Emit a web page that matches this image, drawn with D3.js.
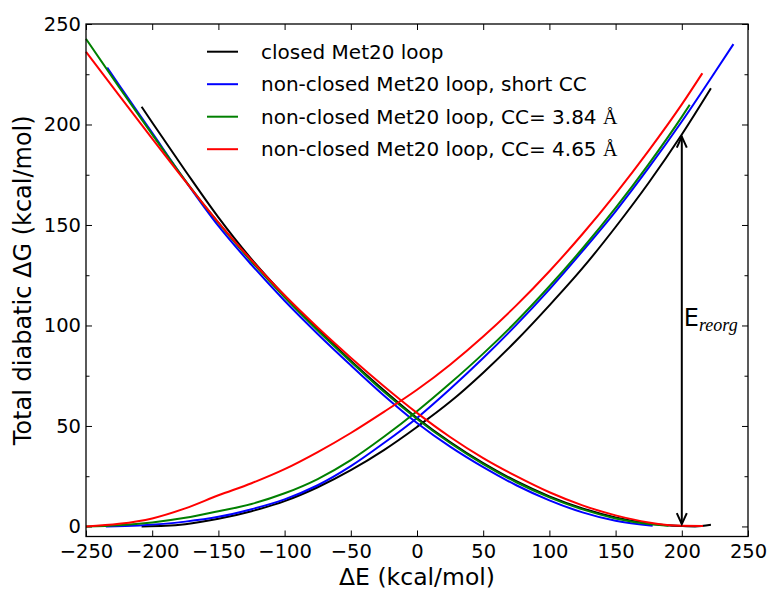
<!DOCTYPE html>
<html>
<head>
<meta charset="utf-8">
<script src="https://cdn.jsdelivr.net/npm/d3@7"></script>
<style>
  html, body { margin: 0; padding: 0; background: #fff; }
  svg { display: block; }
  text { font-family: "DejaVu Sans", sans-serif; fill: #000; }
</style>
</head>
<body>
<svg id="chart" width="771" height="590"></svg>
<script>
// Diabatic free-energy curves, [ΔE, ΔG] in kcal/mol.
// Reactant-state curves (rise to the right)
const closedRise = [[-208,0],[-190,0.3],[-175,1.1],[-150,3.8],[-125,7.6],[-100,12.6],[-75,19.5],[-50,28],[-25,38],[0,49.5],[25,62],[50,76.5],[75,92.5],[100,110],[125,128.5],[150,149],[175,171],[200,195],[222,218]];
const shortRise  = [[-235,0],[-210,0.5],[-175,2.4],[-150,4.8],[-125,8.6],[-100,13.5],[-75,20.5],[-50,30],[-25,41.5],[0,54],[25,68.4],[50,83.8],[75,100.3],[100,118],[125,137],[150,156.8],[175,178.5],[200,201.5],[225,226],[239,240]];
const cc384Rise  = [[-250,0],[-225,0.6],[-200,2],[-175,4.3],[-150,7.6],[-125,11.2],[-100,16.5],[-75,23.6],[-50,33],[-25,44.6],[0,57.3],[25,71.2],[50,86],[75,102],[100,119.5],[125,138.3],[150,158.5],[175,180.3],[200,203.8],[206,209.8]];
const cc465Rise  = [[-250,0],[-225,1.3],[-200,4],[-175,9],[-150,15.5],[-125,21.5],[-100,28.5],[-75,37],[-50,46.5],[-25,57],[0,68],[25,80.5],[50,94.5],[75,110],[100,127],[125,145.5],[150,165.5],[175,187],[200,210],[215.5,225.5]];
// Product-state curves (fall to the right)
const closedFall = [[-208,208.8],[-200,201],[-175,177],[-150,153.8],[-125,133],[-100,114.8],[-75,98.3],[-50,82.5],[-25,67.8],[0,54],[25,42],[50,31.5],[75,22.5],[100,15],[125,9],[150,4.5],[175,1.5],[200,0.2],[210,0],[222,0.8]];
const shortFall  = [[-234,228.3],[-225,219.6],[-200,195.8],[-175,172],[-150,149.5],[-125,130.2],[-100,112.3],[-75,95.8],[-50,80.2],[-25,65.2],[0,51.5],[25,39.7],[50,29.5],[75,20.5],[100,13],[125,7],[150,2.8],[178,0.3]];
const cc384Fall  = [[-250,242.6],[-225,218.6],[-200,195.1],[-175,172.1],[-150,151],[-125,131.8],[-100,114],[-75,97.5],[-50,82],[-25,67],[0,53.5],[25,41.5],[50,31],[75,22],[100,14.5],[125,8.5],[150,4],[175,1.2],[190,0.3]];
const cc465Fall  = [[-250,236.2],[-225,214.5],[-200,193],[-175,171.8],[-150,151.3],[-125,132.5],[-100,115],[-75,99],[-50,84],[-25,69.8],[0,56.5],[25,44.5],[50,34],[75,25],[100,17],[125,10.5],[150,5.5],[175,2],[200,0.3],[216,0.2]];

const seriesNames  = ["closed Met20 loop", "non-closed Met20 loop, short CC", "non-closed Met20 loop, CC= 3.84 ", "non-closed Met20 loop, CC= 4.65 "];
const seriesColors = ["#000000", "#0000ff", "#008000", "#ff0000"];
const seriesCurves = [[closedRise, closedFall], [shortRise, shortFall], [cc384Rise, cc384Fall], [cc465Rise, cc465Fall]];

const xTicks = [-250, -200, -150, -100, -50, 0, 50, 100, 150, 200, 250];
const yTicks = [0, 50, 100, 150, 200, 250];
const yMinorTicks = [25, 75, 125, 175, 225];

// Reorganization-energy arrow at ΔE = 200
const reorgX = 200;
const reorgFrom = 1.2;
const reorgTo = 194;

const svg = d3.select("#chart");
const plotLeft = 86, plotRight = 748, plotTop = 24, plotBottom = 536.5;

const x = d3.scaleLinear().domain([-250, 250]).range([plotLeft, plotRight]);
const y = d3.scaleLinear().domain([-5, 250]).range([plotBottom, plotTop]);

const fmt = d => (d < 0 ? "\u2212" + Math.abs(d) : String(d));

// axes: ticks point inward on all four sides
const gx = svg.append("g").attr("transform", `translate(0,${plotBottom})`)
  .call(d3.axisBottom(x).tickValues(xTicks).tickSizeInner(-6).tickSizeOuter(0).tickPadding(7.8).tickFormat(fmt));
const gxt = svg.append("g").attr("transform", `translate(0,${plotTop})`)
  .call(d3.axisTop(x).tickValues(xTicks).tickSizeInner(-6).tickSizeOuter(0).tickFormat(""));
const gy = svg.append("g").attr("transform", `translate(${plotLeft},0)`)
  .call(d3.axisLeft(y).tickValues(yTicks).tickSizeInner(-6).tickSizeOuter(0).tickPadding(5).tickFormat(fmt));
const gym = svg.append("g").attr("transform", `translate(${plotLeft},0)`)
  .call(d3.axisLeft(y).tickValues(yMinorTicks).tickSizeInner(-3.5).tickSizeOuter(0).tickFormat(""));
const gyr = svg.append("g").attr("transform", `translate(${plotRight},0)`)
  .call(d3.axisRight(y).tickValues(yTicks).tickSizeInner(-6).tickSizeOuter(0).tickFormat(""));
const gyrm = svg.append("g").attr("transform", `translate(${plotRight},0)`)
  .call(d3.axisRight(y).tickValues(yMinorTicks).tickSizeInner(-3.5).tickSizeOuter(0).tickFormat(""));

[gx, gxt, gy, gym, gyr, gyrm].forEach(g => {
  g.select(".domain").remove();
  g.selectAll(".tick line").attr("stroke", "#000").attr("stroke-width", 1);
  g.selectAll(".tick text").attr("font-family", "DejaVu Sans").attr("font-size", 19.5).attr("fill", "#000");
});

// curves
const line = d3.line().x(d => x(d[0])).y(d => y(d[1])).curve(d3.curveMonotoneX);
seriesCurves.forEach((pair, i) => {
  pair.forEach(data => {
    svg.append("path").datum(data)
      .attr("d", line)
      .attr("fill", "none")
      .attr("stroke", seriesColors[i])
      .attr("stroke-width", 2)
      .attr("stroke-linejoin", "round");
  });
});

// frame
svg.append("rect")
  .attr("x", plotLeft).attr("y", plotTop)
  .attr("width", plotRight - plotLeft).attr("height", plotBottom - plotTop)
  .attr("fill", "none").attr("stroke", "#000").attr("stroke-width", 1.3);

// double-headed arrow
const ax = x(reorgX), ay0 = y(reorgFrom), ay1 = y(reorgTo);
svg.append("line").attr("x1", ax).attr("x2", ax).attr("y1", ay0).attr("y2", ay1)
  .attr("stroke", "#000").attr("stroke-width", 2);
const head = (tipY, dir) => `M${ax - 5},${tipY + dir * 11}L${ax},${tipY}L${ax + 5},${tipY + dir * 11}`;
svg.append("path").attr("d", head(ay1, 1)).attr("fill", "none").attr("stroke", "#000").attr("stroke-width", 2);
svg.append("path").attr("d", head(ay0, -1)).attr("fill", "none").attr("stroke", "#000").attr("stroke-width", 2);

const lbl = svg.append("text").attr("x", ax + 2).attr("y", y(100) + 1).attr("font-size", 24);
lbl.append("tspan").text("E");
lbl.append("tspan").attr("font-family", "Liberation Serif").attr("font-style", "italic")
  .attr("font-size", 18).attr("dy", 5).text("reorg");

// legend
const legend = svg.append("g");
seriesNames.forEach((name, i) => {
  const ly = 51.7 + i * 32.5;
  legend.append("line").attr("x1", 207).attr("x2", 238).attr("y1", ly).attr("y2", ly)
    .attr("stroke", seriesColors[i]).attr("stroke-width", 2);
  const t = legend.append("text").attr("x", 261).attr("y", ly + 7).attr("font-size", 20).text(name);
  if (i >= 2) {
    t.append("tspan").attr("font-family", "Liberation Serif").text("\u00C5");
  }
});

// axis titles
svg.append("text").attr("x", (plotLeft + plotRight) / 2).attr("y", 584.8)
  .attr("text-anchor", "middle").attr("font-size", 23.5).text("\u0394E (kcal/mol)");
svg.append("text").attr("transform", `translate(31,${(plotTop + plotBottom) / 2}) rotate(-90)`)
  .attr("text-anchor", "middle").attr("font-size", 24).text("Total diabatic \u0394G (kcal/mol)");
</script>
</body>
</html>
